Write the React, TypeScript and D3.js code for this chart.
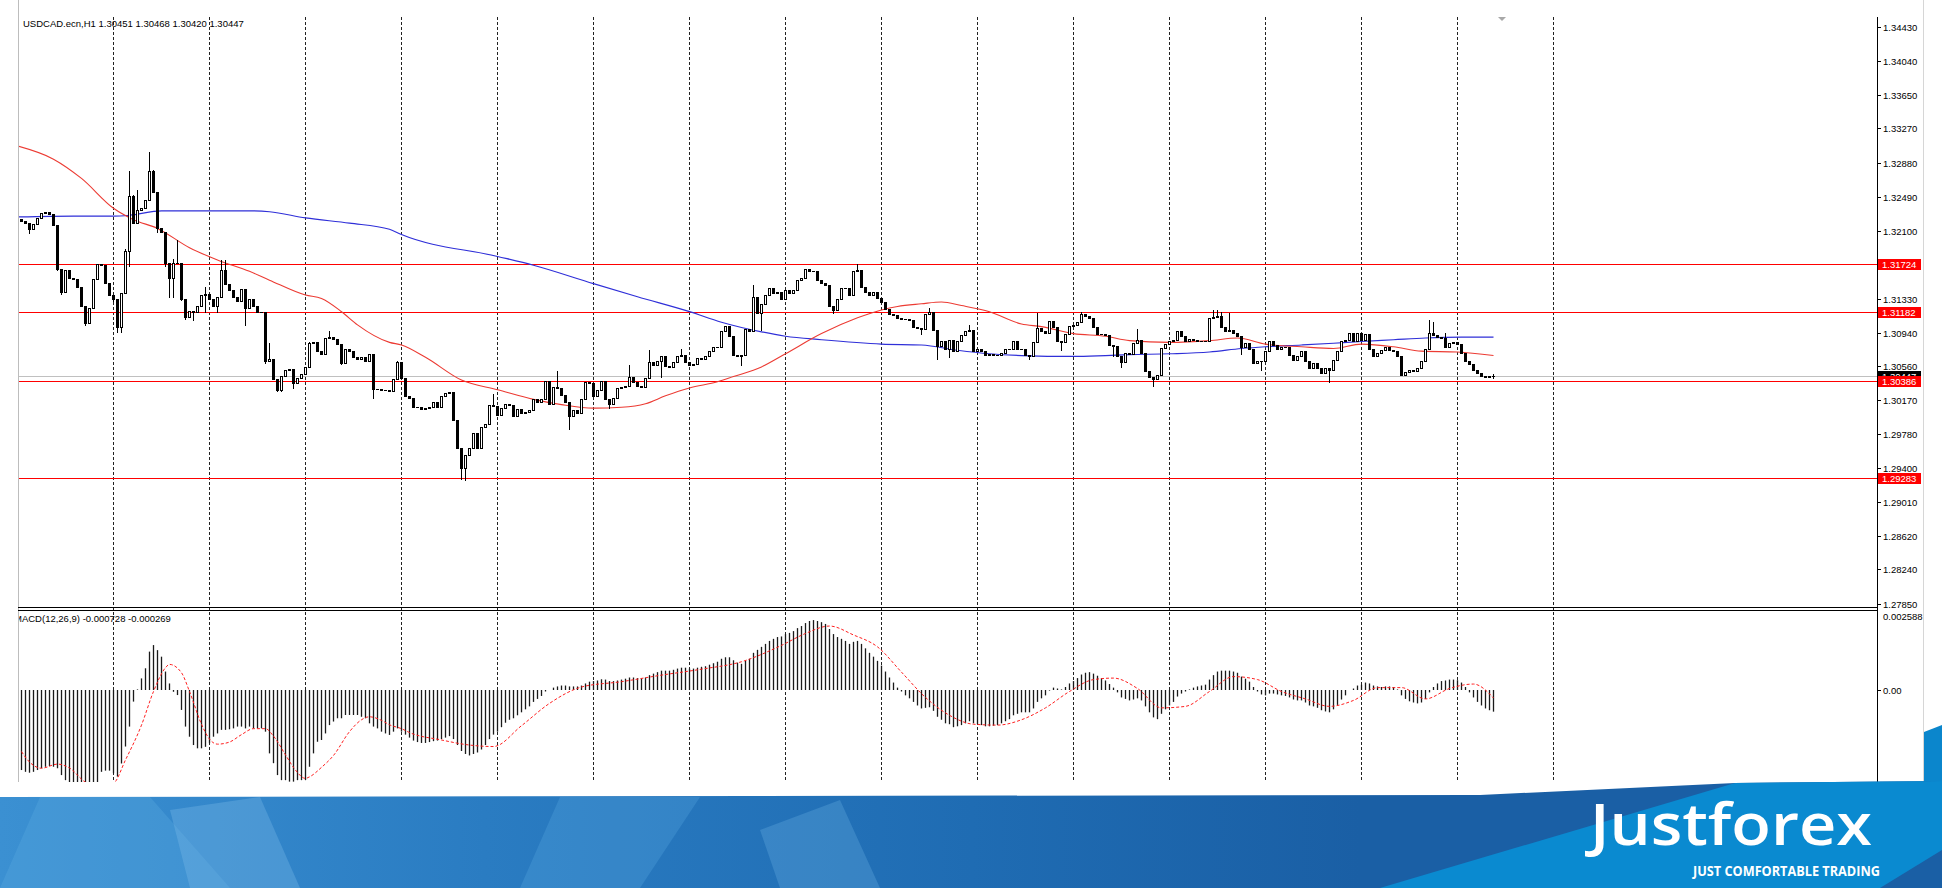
import React from "react";
import * as d3 from "d3";

const symbolLabel = "USDCAD.ecn,H1  1.30451 1.30468 1.30420 1.30447";
const macdLabel = "MACD(12,26,9) -0.000728 -0.000269";
const firstOpen = 1.3224;

const closes = [
  1.3221,1.3219,1.3212,1.3218,1.3225,1.3231,1.3232,1.3230,1.3217,1.3167,1.3140,1.3165,1.3157,1.3155,1.3146,1.3124,1.3105,1.3122,1.3155,1.3172,1.3171,1.3151,1.3137,
  1.3132,1.3101,1.3139,1.3187,1.3250,1.3219,1.3234,1.3236,1.3245,1.3278,1.3254,1.3213,1.3209,1.3173,1.3156,1.3173,1.3174,1.3133,1.3112,1.3119,1.3118,1.3125,1.3137,1.3138,
  1.3132,1.3125,1.3135,1.3165,1.3150,1.3143,1.3135,1.3130,1.3144,1.3122,1.3132,1.3125,1.3118,1.3118,1.3062,1.3064,1.3041,1.3029,1.3045,1.3051,1.3053,1.3037,1.3042,1.3047,
  1.3055,1.3082,1.3083,1.3073,1.3070,1.3088,1.3089,1.3087,1.3081,1.3059,1.3075,1.3073,1.3066,1.3064,1.3066,1.3062,1.3070,1.3030,1.3030,1.3029,1.3029,1.3028,1.3041,1.3061,
  1.3042,1.3022,1.3020,1.3009,1.3009,1.3007,1.3008,1.3009,1.3015,1.3009,1.3022,1.3025,1.3026,1.2994,1.2963,1.2940,1.2955,1.2963,1.2980,1.2963,1.2987,1.2990,1.3011,1.3010,
  1.3000,1.3008,1.3013,1.3011,1.2999,1.3007,1.3003,1.3004,1.3006,1.3018,1.3015,1.3018,1.3039,1.3013,1.3032,1.3031,1.3023,1.3015,1.2999,1.3006,1.3003,1.3018,1.3038,1.3037,
  1.3022,1.3029,1.3039,1.3018,1.3013,1.3020,1.3031,1.3032,1.3033,1.3044,1.3038,1.3033,1.3032,1.3042,1.3061,1.3057,1.3062,1.3067,1.3056,1.3055,1.3061,1.3067,1.3069,1.3061,
  1.3057,1.3058,1.3065,1.3064,1.3067,1.3073,1.3078,1.3078,1.3096,1.3102,1.3090,1.3069,1.3067,1.3069,1.3098,1.3096,1.3135,1.3116,1.3127,1.3137,1.3145,1.3139,1.3141,1.3132,
  1.3143,1.3139,1.3143,1.3154,1.3156,1.3167,1.3164,1.3164,1.3154,1.3151,1.3149,1.3125,1.3120,1.3133,1.3145,1.3145,1.3137,1.3164,1.3166,1.3146,1.3140,1.3137,1.3141,1.3134,
  1.3129,1.3121,1.3115,1.3114,1.3111,1.3110,1.3110,1.3109,1.3101,1.3099,1.3098,1.3115,1.3118,1.3097,1.3079,1.3085,1.3075,1.3086,1.3073,1.3085,1.3091,1.3096,1.3097,1.3073,
  1.3076,1.3073,1.3069,1.3070,1.3069,1.3069,1.3071,1.3075,1.3075,1.3084,1.3076,1.3076,1.3069,1.3067,1.3083,1.3099,1.3096,1.3094,1.3107,1.3101,1.3085,1.3083,1.3093,1.3102,
  1.3103,1.3106,1.3115,1.3113,1.3111,1.3101,1.3093,1.3093,1.3091,1.3080,1.3079,1.3068,1.3061,1.3071,1.3070,1.3082,1.3086,1.3071,1.3050,1.3044,1.3041,1.3046,1.3077,1.3081,
  1.3084,1.3086,1.3096,1.3090,1.3085,1.3087,1.3086,1.3085,1.3084,1.3084,1.3111,1.3112,1.3113,1.3100,1.3096,1.3097,1.3094,1.3090,1.3078,1.3082,1.3075,1.3060,1.3062,1.3062,
  1.3073,1.3085,1.3080,1.3075,1.3078,1.3078,1.3069,1.3063,1.3068,1.3073,1.3062,1.3054,1.3060,1.3054,1.3048,1.3054,1.3051,1.3063,1.3073,1.3084,1.3086,1.3094,1.3084,1.3094,
  1.3086,1.3092,1.3076,1.3068,1.3071,1.3074,1.3078,1.3074,1.3073,1.3067,1.3046,1.3049,1.3052,1.3050,1.3054,1.3062,1.3075,1.3094,1.3091,1.3089,1.3088,1.3078,1.3082,1.3083,
  1.3081,1.3071,1.3062,1.3058,1.3052,1.3048,1.3045,1.3043,1.30451,1.30447,
];

// wick extremes: [bar index, price]
const highWicks: [number, number][] = [
  [26,1.3189],[27,1.3279],[28,1.3251],[29,1.3257],[32,1.3300],[33,1.3280],[38,1.3178],[39,1.3200],[46,1.3146],[50,1.3177],[51,1.3177],
  [62,1.3082],[72,1.3083],[77,1.3096],[94,1.3062],[118,1.3024],[134,1.3050],[152,1.3057],[153,1.3043],[157,1.3074],[165,1.3076],
  [183,1.3148],[209,1.3172],[227,1.3122],[237,1.3103],[254,1.3116],[265,1.3118],[279,1.3098],[298,1.3120],[299,1.3120],[300,1.3118],
  [302,1.3116],[352,1.3109],[353,1.3106],[356,1.3094],[368,1.30468],
];
const lowWicks: [number, number][] = [
  [2,1.3208],[9,1.3166],[10,1.3138],[16,1.3103],[23,1.3130],[24,1.3095],[25,1.3095],[27,1.3170],[29,1.3219],[34,1.3209],[36,1.3170],
  [37,1.3135],[38,1.3135],[40,1.3131],[41,1.3110],[43,1.3108],[46,1.3118],[49,1.3118],[56,1.3103],[61,1.3060],[64,1.3028],[65,1.3028],
  [68,1.3031],[80,1.3058],[88,1.3020],[110,1.2927],[111,1.2926],[137,1.2984],[147,1.3008],[160,1.3043],[180,1.3057],[185,1.3097],
  [203,1.3116],[225,1.3092],[229,1.3064],[232,1.3066],[252,1.3064],[260,1.3074],[273,1.3068],[275,1.3055],[283,1.3033],[305,1.3070],
  [310,1.3051],[327,1.3038],[368,1.30420],
];

// moving averages read at points: [bar index, price]
const maRed: [number, number][] = [
  [-1,1.3307],[8,1.3292],[15,1.3270],[23,1.3236],[28,1.3223],[34,1.3213],[42,1.3191],[49,1.3177],[57,1.3164],[62,1.3154],[71,1.3137],
  [75,1.3133],[80,1.3118],[84,1.3103],[92,1.3083],[95,1.3080],[101,1.3066],[110,1.3040],[119,1.3029],[128,1.3018],[135,1.3012],
  [143,1.3008],[150,1.3009],[156,1.3013],[161,1.3022],[167,1.3031],[174,1.3038],[178,1.3044],[185,1.3055],[191,1.3070],[200,1.3093],
  [209,1.3111],[215,1.3120],[219,1.3124],[225,1.3127],[230,1.3129],[235,1.3125],[242,1.3118],[250,1.3104],[255,1.3101],[263,1.3093],
  [271,1.3090],[277,1.3085],[287,1.3083],[297,1.3085],[304,1.3088],[311,1.3081],[320,1.3078],[328,1.3076],[335,1.3081],[343,1.3078],
  [350,1.3073],[359,1.3072],[368,1.3068],
];
const maBlue: [number, number][] = [
  [-1,1.3226],[13,1.3227],[23,1.3227],[27,1.3228],[35,1.3233],[47,1.3233],[57,1.3233],[62,1.3232],[71,1.3225],[82,1.3219],[92,1.3212],
  [95,1.3206],[119,1.3181],[128,1.3171],[143,1.3150],[154,1.3135],[167,1.3118],[175,1.3106],[185,1.3095],[191,1.3090],[200,1.3086],
  [215,1.3081],[225,1.3080],[234,1.3074],[242,1.3070],[250,1.3068],[263,1.3067],[271,1.3068],[277,1.3069],[287,1.3070],[297,1.3072],
  [305,1.3076],[311,1.3078],[320,1.3080],[328,1.3082],[335,1.3084],[343,1.3086],[351,1.3088],[360,1.3089],[368,1.3089],
];

const macdHist = [
  -0.00269,-0.00275,-0.00278,-0.00275,-0.00269,-0.00263,-0.00258,-0.00256,-0.00258,-0.00263,-0.00286,-0.00303,-0.00312,-0.00312,-0.00312,-0.00312,-0.00312,-0.00312,-0.00312,-0.00312,-0.00275,-0.00271,-0.00271,
  -0.00280,-0.00291,-0.00247,-0.00190,-0.00123,-0.00039,0.00002,0.00039,0.00073,0.00129,0.00151,0.00134,0.00112,0.00062,0.00022,-0.00006,-0.00017,-0.00067,-0.00123,-0.00157,-0.00185,-0.00196,-0.00196,-0.00191,
  -0.00179,-0.00157,-0.00146,-0.00134,-0.00134,-0.00132,-0.00129,-0.00123,-0.00123,-0.00129,-0.00123,-0.00129,-0.00129,-0.00129,-0.00140,-0.00213,-0.00246,-0.00286,-0.00303,-0.00303,-0.00308,-0.00308,-0.00303,-0.00303,
  -0.00303,-0.00258,-0.00213,-0.00174,-0.00168,-0.00146,-0.00118,-0.00106,-0.00095,-0.00095,-0.00084,-0.00084,-0.00084,-0.00084,-0.00090,-0.00095,-0.00112,-0.00123,-0.00129,-0.00140,-0.00146,-0.00151,-0.00140,-0.00129,
  -0.00140,-0.00150,-0.00160,-0.00170,-0.00175,-0.00178,-0.00178,-0.00175,-0.00172,-0.00170,-0.00165,-0.00160,-0.00155,-0.00165,-0.00185,-0.00205,-0.00215,-0.00220,-0.00215,-0.00210,-0.00200,-0.00185,-0.00165,-0.00150,
  -0.00140,-0.00125,-0.00110,-0.00100,-0.00095,-0.00085,-0.00075,-0.00065,-0.00055,-0.00040,-0.00030,-0.00020,-0.00005,0.00000,0.00008,0.00012,0.00015,0.00015,0.00012,0.00012,0.00012,0.00015,0.00022,0.00028,
  0.00030,0.00032,0.00036,0.00035,0.00030,0.00030,0.00032,0.00035,0.00038,0.00042,0.00042,0.00040,0.00040,0.00042,0.00050,0.00055,0.00060,0.00065,0.00065,0.00065,0.00068,0.00072,0.00075,0.00075,
  0.00072,0.00072,0.00075,0.00078,0.00080,0.00085,0.00090,0.00095,0.00105,0.00110,0.00110,0.00100,0.00092,0.00088,0.00098,0.00105,0.00125,0.00135,0.00145,0.00155,0.00165,0.00172,0.00178,0.00180,
  0.00188,0.00192,0.00198,0.00208,0.00215,0.00225,0.00232,0.00235,0.00232,0.00228,0.00222,0.00205,0.00188,0.00178,0.00172,0.00165,0.00155,0.00162,0.00165,0.00155,0.00140,0.00125,0.00112,0.00098,
  0.00082,0.00062,0.00042,0.00025,0.00008,-0.00005,-0.00018,-0.00028,-0.00040,-0.00052,-0.00062,-0.00060,-0.00058,-0.00070,-0.00090,-0.00100,-0.00112,-0.00115,-0.00125,-0.00122,-0.00118,-0.00112,-0.00105,-0.00112,
  -0.00115,-0.00118,-0.00122,-0.00122,-0.00120,-0.00118,-0.00112,-0.00105,-0.00098,-0.00085,-0.00080,-0.00075,-0.00075,-0.00075,-0.00062,-0.00040,-0.00028,-0.00018,-0.00002,0.00008,0.00005,0.00002,0.00010,0.00022,
  0.00030,0.00040,0.00052,0.00058,0.00060,0.00055,0.00048,0.00040,0.00032,0.00020,0.00008,-0.00008,-0.00025,-0.00030,-0.00035,-0.00032,-0.00028,-0.00035,-0.00055,-0.00075,-0.00092,-0.00098,-0.00080,-0.00065,
  -0.00052,-0.00040,-0.00022,-0.00012,-0.00005,0.00002,0.00008,0.00012,0.00015,0.00018,0.00035,0.00050,0.00062,0.00065,0.00065,0.00065,0.00062,0.00058,0.00045,0.00038,0.00028,0.00010,-0.00005,-0.00015,
  -0.00018,-0.00012,-0.00012,-0.00015,-0.00018,-0.00020,-0.00025,-0.00032,-0.00035,-0.00035,-0.00042,-0.00052,-0.00055,-0.00060,-0.00068,-0.00072,-0.00075,-0.00065,-0.00050,-0.00032,-0.00018,0.00000,0.00005,0.00015,
  0.00018,0.00025,0.00022,0.00015,0.00012,0.00010,0.00012,0.00012,0.00010,0.00002,-0.00018,-0.00030,-0.00038,-0.00042,-0.00045,-0.00042,-0.00030,-0.00008,0.00010,0.00022,0.00030,0.00032,0.00035,0.00035,
  0.00033,0.00025,0.00010,-0.00008,-0.00025,-0.00040,-0.00052,-0.00062,-0.00068,-0.000728,
];

const macdSignal: [number, number][] = [
  [0,-0.00207],[2,-0.00242],[5,-0.00263],[9,-0.00249],[12,-0.00262],[16,-0.00310],[20,-0.00325],[23,-0.00314],[26,-0.00235],[30,-0.00118],
  [33,-0.00005],[36,0.00075],[37,0.00086],[40,0.00058],[42,-0.00005],[45,-0.00115],[47,-0.00165],[49,-0.00182],[52,-0.00175],[55,-0.00150],
  [58,-0.00130],[61,-0.00130],[63,-0.00155],[66,-0.00218],[68,-0.00260],[71,-0.00297],[72,-0.00292],[75,-0.00260],[78,-0.00220],[82,-0.00140],
  [85,-0.00100],[87,-0.00090],[90,-0.00102],[92,-0.00117],[95,-0.00130],[97,-0.00143],[105,-0.00168],[112,-0.00185],[118,-0.00190],
  [125,-0.00120],[132,-0.00045],[140,0.00010],[150,0.00028],[160,0.00050],[170,0.00070],[180,0.00095],[190,0.00150],[196,0.00190],
  [202,0.00215],[208,0.00185],[214,0.00145],[220,0.00060],[226,-0.00025],[232,-0.00085],[238,-0.00115],[244,-0.00118],[250,-0.00100],
  [256,-0.00060],[262,-0.00005],[268,0.00035],[273,0.00040],[279,0.00005],[285,-0.00060],[291,-0.00055],[297,-0.00005],[303,0.00045],
  [309,0.00035],[315,-0.00005],[321,-0.00030],[327,-0.00055],[333,-0.00035],[339,0.00008],[345,0.00008],[351,-0.00030],[357,0.00005],
  [363,0.00020],[368,-0.000269],
];

const levels = [1.31724, 1.31182, 1.30386, 1.29283];
const lastPrice = 1.30447;
const priceTicks = [1.3443, 1.3404, 1.3365, 1.3327, 1.3288, 1.3249, 1.321, 1.3171, 1.3133, 1.3094, 1.3056, 1.3017, 1.2978, 1.294, 1.2901, 1.2862, 1.2824, 1.2785];
const macdTicks = [0.002588, 0];
const daySeparators = [23, 47, 71, 95, 119, 143, 167, 191, 215, 239, 263, 287, 311, 335, 359, 383];

const FONT = "'Liberation Sans', Arial, sans-serif";
const L = 18, R = 1877;
const MAIN_T = 17, MAIN_B = 607;
const MACD_T = 611, MACD_B = 782;

export default function App() {
  const x = d3.scaleLinear().domain([0, 368]).range([21, 21 + 4 * 368]);
  const y = d3.scaleLinear().domain([1.29283, 1.31724]).range([478, 264]);
  const ym = d3.scaleLinear().domain([0, 0.002588]).range([690, 613]);

  const hiMap = new Map(highWicks.map((d) => [d[0], d[1]]));
  const loMap = new Map(lowWicks.map((d) => [d[0], d[1]]));
  const candles = closes.map((c, i) => {
    const o = i === 0 ? firstOpen : closes[i - 1];
    const h = Math.max(o, c, hiMap.has(i) ? (hiMap.get(i) as number) : -Infinity);
    const l = Math.min(o, c, loMap.has(i) ? (loMap.get(i) as number) : Infinity);
    return { i, o, c, h, l };
  });

  const priceLine = d3
    .line<[number, number]>()
    .x((d) => x(d[0]) + 0.5)
    .y((d) => y(d[1]))
    .curve(d3.curveMonotoneX);
  const sigLine = d3
    .line<[number, number]>()
    .x((d) => x(d[0]) + 0.5)
    .y((d) => ym(d[1]))
    .curve(d3.curveMonotoneX);

  const fmt = d3.format(".5f");
  const yr = (v: number) => Math.round(y(v));
  const lastY = yr(lastPrice);

  return (
    <svg width={1942} height={888} style={{ position: "absolute", left: 0, top: 0, background: "#fff" }} fontFamily={FONT}>
      <defs>
        <clipPath id="mainClip">
          <rect x={L + 1} y={MAIN_T} width={R - L - 1} height={MAIN_B - MAIN_T} />
        </clipPath>
        <clipPath id="macdClip">
          <rect x={L + 1} y={MACD_T} width={R - L - 1} height={MACD_B - MACD_T} />
        </clipPath>
        <clipPath id="lastClip">
          <rect x={R + 1} y={lastY - 5} width={43} height={6} />
        </clipPath>
        <linearGradient id="bannerGrad" x1="0" x2="1" y1="0" y2="0">
          <stop offset="0" stopColor="#3b90d2" />
          <stop offset="0.25" stopColor="#2a7cc2" />
          <stop offset="0.5" stopColor="#1f6cb3" />
          <stop offset="0.7" stopColor="#1a5fa5" />
          <stop offset="1" stopColor="#1a5fa5" />
        </linearGradient>
      </defs>

      {/* frame lines */}
      <line x1={L + 0.5} x2={L + 0.5} y1={0} y2={MACD_B} stroke="#bdbdbd" />
      <line x1={1923.5} x2={1923.5} y1={0} y2={MACD_B} stroke="#d6d6d6" />

      {/* day separators */}
      {daySeparators.map((d) => (
        <line key={d} x1={x(d) + 0.5} x2={x(d) + 0.5} y1={MAIN_T} y2={MACD_B} stroke="#222" strokeDasharray="3,2" />
      ))}

      {/* main pane */}
      <g clipPath="url(#mainClip)">
        <line x1={L} x2={R} y1={lastY + 0.5} y2={lastY + 0.5} stroke="#c0c0c0" />
        {levels.map((v) => (
          <line key={v} x1={L} x2={R} y1={yr(v) + 0.5} y2={yr(v) + 0.5} stroke="#ff0000" />
        ))}
        <path d={priceLine(maBlue) || ""} fill="none" stroke="#2f2fd8" strokeWidth={1.2} />
        <path d={priceLine(maRed) || ""} fill="none" stroke="#ec3b33" strokeWidth={1.1} />
        {candles.map((k) => {
          const cx = x(k.i);
          const top = yr(Math.max(k.o, k.c));
          const bot = yr(Math.min(k.o, k.c));
          const bull = k.c > k.o;
          return (
            <g key={k.i}>
              <line x1={cx + 0.5} x2={cx + 0.5} y1={yr(k.h)} y2={yr(k.l) + 1} stroke="#000" />
              {bot - top < 1 ? (
                <line x1={cx - 1} x2={cx + 2} y1={top + 0.5} y2={top + 0.5} stroke="#000" />
              ) : (
                <rect x={cx - 0.5} y={top + 0.5} width={2} height={bot - top} fill={bull ? "#fff" : "#000"} stroke="#000" />
              )}
            </g>
          );
        })}
      </g>

      <text x={23} y={27} fontSize={9.5} fill="#000">{symbolLabel}</text>
      <polygon points="1498,17 1506,17 1502,21" fill="#a8a8a8" />

      {/* pane separator */}
      <line x1={L} x2={R} y1={607.5} y2={607.5} stroke="#000" />
      <line x1={L} x2={R} y1={610.5} y2={610.5} stroke="#000" />

      {/* macd pane */}
      <g clipPath="url(#macdClip)">
        {macdHist.map((v, i) => (
          <line key={i} x1={x(i) + 0.5} x2={x(i) + 0.5} y1={ym(0)} y2={ym(v)} stroke="#1a1a1a" strokeWidth={1.3} />
        ))}
        <path d={sigLine(macdSignal) || ""} fill="none" stroke="#ff2020" strokeDasharray="3,2" strokeWidth={1} />
      </g>
      <svg x={L + 1} y={MACD_T} width={400} height={20} overflow="hidden">
        <text x={-5} y={11} fontSize={9.5} fill="#000">{macdLabel}</text>
      </svg>

      {/* right axis */}
      <line x1={R + 0.5} x2={R + 0.5} y1={MAIN_T} y2={MACD_B} stroke="#000" />
      {priceTicks.map((v) => (
        <g key={v}>
          <line x1={R} x2={R + 4} y1={yr(v) + 0.5} y2={yr(v) + 0.5} stroke="#000" />
          <text x={R + 6} y={yr(v) + 3.5} fontSize={9.5} fill="#000">{fmt(v)}</text>
        </g>
      ))}
      {macdTicks.map((v) => (
        <g key={v}>
          {v === 0 && <line x1={R} x2={R + 4} y1={Math.round(ym(v)) + 0.5} y2={Math.round(ym(v)) + 0.5} stroke="#000" />}
          <text x={R + 6} y={Math.round(ym(v)) + (v === 0 ? 3.5 : 7)} fontSize={9.5} fill="#000">
            {v === 0 ? "0.00" : d3.format(".6f")(v)}
          </text>
        </g>
      ))}
      <rect x={R + 1} y={lastY - 5} width={43} height={11} fill="#000" />
      <g clipPath="url(#lastClip)">
        <text x={R + 5} y={lastY + 3.5} fontSize={9.5} fill="#fff">{fmt(lastPrice)}</text>
      </g>
      {levels.map((v) => (
        <g key={v}>
          <rect x={R + 1} y={yr(v) - 5} width={43} height={11} fill="#ff0000" />
          <text x={R + 5} y={yr(v) + 3.5} fontSize={9.5} fill="#fff">{fmt(v)}</text>
        </g>
      ))}

      {/* banner */}
      <polygon points="1924,732 1942,725 1942,888 1924,888" fill="#0b86cc" />
      <polygon points="0,797 1480,795 1735,783 1942,781 1942,888 0,888" fill="url(#bannerGrad)" />
      <polygon points="40,797 150,797 230,888 0,888" fill="#5aa8e0" opacity={0.35} />
      <polygon points="170,810 260,797 300,888 190,888" fill="#7bbbe8" opacity={0.35} />
      <polygon points="560,797 700,797 640,888 520,888" fill="#5aa8e0" opacity={0.3} />
      <polygon points="760,830 840,800 880,888 780,888" fill="#6db3e6" opacity={0.3} />
      <polygon points="1735,783 1942,781 1942,888 1380,888" fill="#0a8ad0" />
      <polygon points="1880,888 1942,850 1942,888" fill="#1a5fa5" />
      <text x={1590} y={845} fontSize={58} fontWeight={600} fill="#fff" fontFamily="'Open Sans', sans-serif" textLength={282} lengthAdjust="spacingAndGlyphs">Justforex</text>
      <text x={1693} y={876} fontSize={13.5} fontWeight={700} fill="#fff" fontFamily="'Open Sans', sans-serif" textLength={187} lengthAdjust="spacingAndGlyphs">JUST COMFORTABLE TRADING</text>
    </svg>
  );
}
